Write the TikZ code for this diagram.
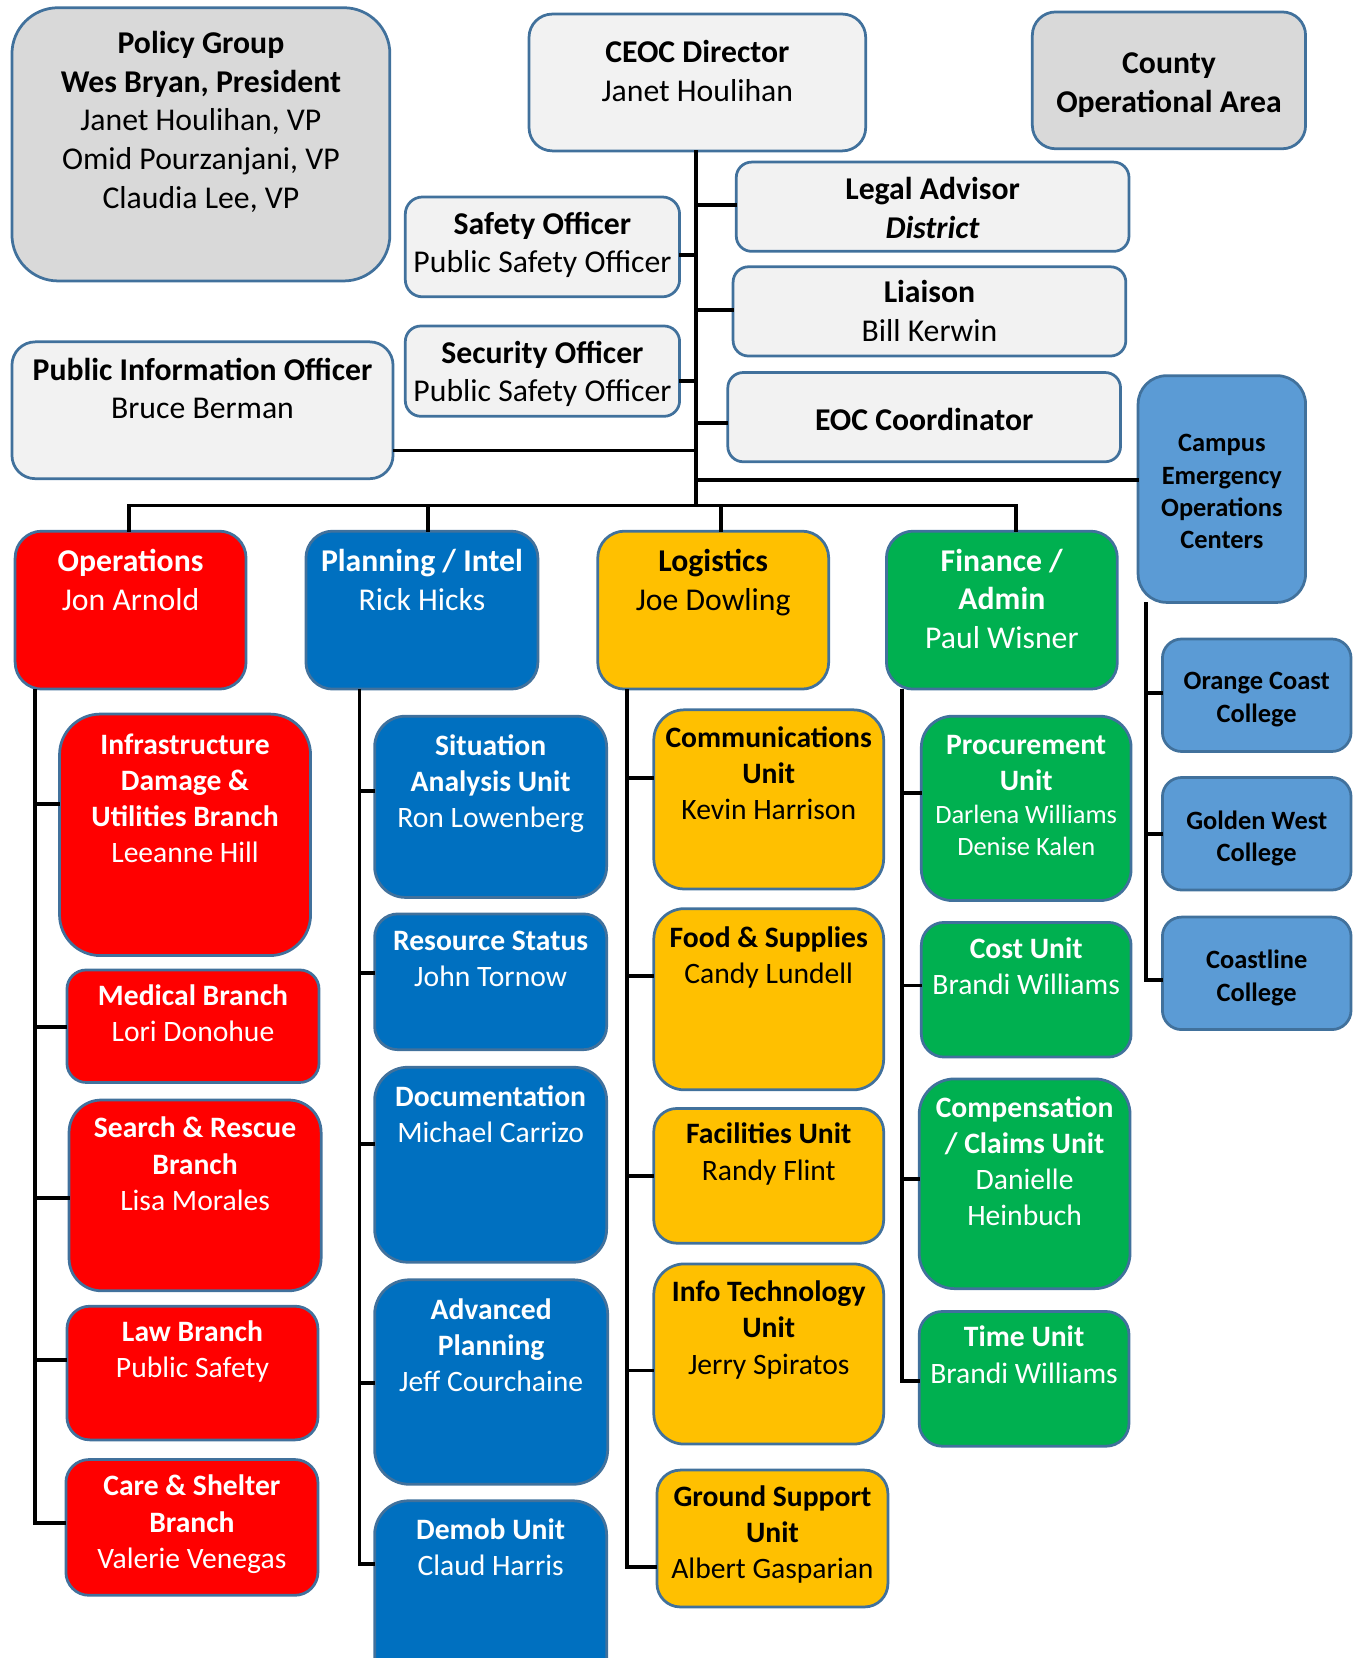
\documentclass[tikz,border=0pt]{standalone}
\usepackage{fontspec}
\setmainfont{Carlito}
\usetikzlibrary{calc}
\definecolor{edgec}{HTML}{41719C}
\definecolor{fgray}{HTML}{D9D9D9}
\definecolor{flight}{HTML}{F2F2F2}
\definecolor{fred}{HTML}{FF0000}
\definecolor{fblue}{HTML}{0070C0}
\definecolor{fyel}{HTML}{FFC000}
\definecolor{fgreen}{HTML}{00B050}
\definecolor{flblue}{HTML}{5B9BD5}
\newcommand\fA{\fontsize{30}{36.6}\selectfont}
\newcommand\fB{\fontsize{28}{34.2}\selectfont}
\newcommand\fC{\fontsize{25}{30.5}\selectfont}
\newcommand\st{\strut}
\tikzset{
  bxbase/.style={draw=edgec, line width=2.6pt, inner sep=0pt},
  bxgr/.style={bxbase, fill=fgray},
  bxlt/.style={bxbase, fill=flight},
  bxrd/.style={bxbase, fill=fred},
  bxbl/.style={bxbase, fill=fblue},
  bxyl/.style={bxbase, fill=fyel},
  bxgn/.style={bxbase, fill=fgreen},
  bxlb/.style={bxbase, fill=flblue},
  txbase/.style={align=center, inner sep=0pt, yshift=-1pt},
  txk/.style={txbase, text=black},
  txw/.style={txbase, text=white},
  conn/.style={line width=3.6pt, black, line cap=rect},
}
% name, style, x1, y1, x2, y2
\newcommand\obox[6]{%
  \pgfmathsetmacro\obw{#5-#3}%
  \pgfmathsetmacro\obh{#6-#4}%
  \pgfmathsetmacro\obr{0.167*min(\obw,\obh)}%
  \node[#2, minimum width={\obw pt-2.6pt}, minimum height={\obh pt-2.6pt}, rounded corners=\obr pt] (#1) at ({(#3+#5)/2},{(#4+#6)/2}) {};}
% name, box, y, style, font, text
\newcommand\otx[6]{\node[#4, font=#5] (#1) at (#2.center |- 0,#3) {#6};}
\begin{document}
\begin{tikzpicture}[x=1pt,y=-1pt]
\useasboundingbox (0,0) rectangle (1287,1568);
\clip (0,0) rectangle (1287,1568);

\coordinate (tk) at (658,478);
\coordinate (b1) at (122,478);
\coordinate (b2) at (405,478);
\coordinate (b3) at (682,478);
\coordinate (b4) at (961,478);
\coordinate (oL) at (33,653);
\coordinate (pL) at (340,653);
\coordinate (lL) at (593,653);
\coordinate (fL) at (853,653);
\coordinate (cL) at (1084,571);

% ---------- top boxes ----------
\obox{pg}{bxgr}{10}{6}{370}{267}
\obox{ceoc}{bxlt}{499}{12}{820}{144}
\obox{county}{bxgr}{975}{10}{1236}{142}
\obox{safety}{bxlt}{382}{185}{644}{282}
\obox{legal}{bxlt}{695}{152}{1069}{239}
\obox{liaison}{bxlt}{692}{251}{1066}{338}
\obox{security}{bxlt}{382}{307}{644}{395}
\obox{pio}{bxlt}{10}{322}{373}{454}
\obox{eoc}{bxlt}{687}{351}{1061}{438}
\obox{campus}{bxlb}{1075}{354}{1236}{571}

% ---------- section heads ----------
\obox{ops}{bxrd}{13}{501}{234}{653}
\obox{plan}{bxbl}{288}{501}{510}{653}
\obox{logi}{bxyl}{564}{501}{785}{653}
\obox{fin}{bxgn}{837}{501}{1058}{653}

% ---------- operations ----------
\obox{infra}{bxrd}{55}{674}{295}{905}
\obox{medical}{bxrd}{62}{916}{303}{1025}
\obox{sar}{bxrd}{64}{1039}{305}{1222}
\obox{law}{bxrd}{62}{1234}{302}{1363}
\obox{care}{bxrd}{61}{1379}{302}{1510}

% ---------- planning ----------
\obox{sit}{bxbl}{353}{676}{575}{850}
\obox{res}{bxbl}{353}{863}{575}{994}
\obox{doc}{bxbl}{353}{1008}{575}{1195}
\obox{adv}{bxbl}{353}{1209}{576}{1405}
\obox{demob}{bxbl}{353}{1418}{575}{1610}

% ---------- logistics ----------
\obox{comm}{bxyl}{617}{670}{837}{842}
\obox{food}{bxyl}{617}{858}{837}{1032}
\obox{fac}{bxyl}{617}{1047}{837}{1177}
\obox{it}{bxyl}{617}{1194}{837}{1367}
\obox{gnd}{bxyl}{620}{1389}{841}{1521}

% ---------- finance ----------
\obox{proc}{bxgn}{870}{676}{1071}{853}
\obox{cost}{bxgn}{870}{871}{1071}{1001}
\obox{comp}{bxgn}{868}{1019}{1070}{1220}
\obox{time}{bxgn}{868}{1239}{1069}{1369}

% ---------- colleges ----------
\obox{occ}{bxlb}{1098}{603}{1279}{712}
\obox{gwc}{bxlb}{1098}{734}{1279}{843}
\obox{coc}{bxlb}{1098}{866}{1279}{975}

% ---------- lines ----------
\draw[conn] (ceoc.south -| tk) -- (tk);
\draw[conn] (tk |- 0,194) -- (legal.west |- 0,194);
\draw[conn] (safety.east |- 0,241) -- (tk |- 0,241);
\draw[conn] (tk |- 0,293) -- (liaison.west |- 0,293);
\draw[conn] (security.east |- 0,360) -- (tk |- 0,360);
\draw[conn] (tk |- 0,400) -- (eoc.west |- 0,400);
\draw[conn] (pio.east |- 0,426) -- (tk |- 0,426);
\draw[conn] (tk |- 0,454) -- (campus.west |- 0,454);
\draw[conn] (b1) -- (b4);
\draw[conn] (b1) -- (b1 |- ops.north);
\draw[conn] (b2) -- (b2 |- plan.north);
\draw[conn] (b3) -- (b3 |- logi.north);
\draw[conn] (b4) -- (b4 |- fin.north);

\draw[conn] (oL) -- (oL |- 0,1440);
\draw[conn] (oL |- 0,760) -- (infra.west |- 0,760);
\draw[conn] (oL |- 0,971) -- (medical.west |- 0,971);
\draw[conn] (oL |- 0,1133) -- (sar.west |- 0,1133);
\draw[conn] (oL |- 0,1286) -- (law.west |- 0,1286);
\draw[conn] (oL |- 0,1440) -- (care.west |- 0,1440);

\draw[conn] (pL) -- (pL |- 0,1479);
\draw[conn] (pL |- 0,748) -- (sit.west |- 0,748);
\draw[conn] (pL |- 0,920) -- (res.west |- 0,920);
\draw[conn] (pL |- 0,1082) -- (doc.west |- 0,1082);
\draw[conn] (pL |- 0,1308) -- (adv.west |- 0,1308);
\draw[conn] (pL |- 0,1479) -- (demob.west |- 0,1479);

\draw[conn] (lL) -- (lL |- 0,1482);
\draw[conn] (lL |- 0,736) -- (comm.west |- 0,736);
\draw[conn] (lL |- 0,923) -- (food.west |- 0,923);
\draw[conn] (lL |- 0,1112) -- (fac.west |- 0,1112);
\draw[conn] (lL |- 0,1296) -- (it.west |- 0,1296);
\draw[conn] (lL |- 0,1482) -- (gnd.west |- 0,1482);

\draw[conn] (fL) -- (fL |- 0,1306);
\draw[conn] (fL |- 0,750) -- (proc.west |- 0,750);
\draw[conn] (fL |- 0,932) -- (cost.west |- 0,932);
\draw[conn] (fL |- 0,1115) -- (comp.west |- 0,1115);
\draw[conn] (fL |- 0,1306) -- (time.west |- 0,1306);

\draw[conn] (cL) -- (cL |- 0,927);
\draw[conn] (cL |- 0,655) -- (occ.west |- 0,655);
\draw[conn] (cL |- 0,789) -- (gwc.west |- 0,789);
\draw[conn] (cL |- 0,927) -- (coc.west |- 0,927);

% ---------- texts ----------
\otx{pg-t}{pg}{115.5}{txk}{\fA}{\st\textbf{Policy Group}\\\st\textbf{Wes Bryan, President}\\\st Janet Houlihan, VP\\\st Omid Pourzanjani, VP\\\st Claudia Lee, VP}
\otx{ceoc-t}{ceoc}{69.5}{txk}{\fA}{\st\textbf{CEOC Director}\\\st Janet Houlihan}
\otx{county-t}{county}{79.5}{txk}{\fA}{\st\textbf{County}\\\st\textbf{Operational Area}}
\otx{safety-t}{safety}{231.5}{txk}{\fA}{\st\textbf{Safety Officer}\\\st Public Safety Officer}
\otx{legal-t}{legal}{199}{txk}{\fA}{\st\textbf{Legal Advisor}\\\st\textbf{\textit{District}}}
\otx{liaison-t}{liaison}{296.5}{txk}{\fA}{\st\textbf{Liaison}\\\st Bill Kerwin}
\otx{security-t}{security}{353.5}{txk}{\fA}{\st\textbf{Security Officer}\\\st Public Safety Officer}
\otx{pio-t}{pio}{369.5}{txk}{\fA}{\st\textbf{Public Information Officer}\\\st Bruce Berman}
\otx{eoc-t}{eoc}{399}{txk}{\fA}{\st\textbf{EOC Coordinator}}
\otx{campus-t}{campus}{466}{txk}{\fC}{\st\textbf{Campus}\\\st\textbf{Emergency}\\\st\textbf{Operations}\\\st\textbf{Centers}}

\otx{ops-t}{ops}{550.5}{txw}{\fA}{\st\textbf{Operations}\\\st Jon Arnold}
\otx{plan-t}{plan}{550.5}{txw}{\fA}{\st\textbf{Planning / Intel}\\\st Rick Hicks}
\otx{logi-t}{logi}{550.5}{txk}{\fA}{\st\textbf{Logistics}\\\st Joe Dowling}
\otx{fin-t}{fin}{568.5}{txw}{\fA}{\st\textbf{Finance /}\\\st\textbf{Admin}\\\st Paul Wisner}

\otx{infra-t}{infra}{757}{txw}{\fB}{\st\textbf{Infrastructure}\\\st\textbf{Damage \&}\\\st\textbf{Utilities Branch}\\\st Leeanne Hill}
\otx{medical-t}{medical}{960}{txw}{\fB}{\st\textbf{Medical Branch}\\\st Lori Donohue}
\otx{sar-t}{sar}{1102.5}{txw}{\fB}{\st\textbf{Search \& Rescue}\\\st\textbf{Branch}\\\st Lisa Morales}
\otx{law-t}{law}{1278}{txw}{\fB}{\st\textbf{Law Branch}\\\st Public Safety}
\otx{care-t}{care}{1441}{txw}{\fB}{\st\textbf{Care \& Shelter}\\\st\textbf{Branch}\\\st Valerie Venegas}

\otx{sit-t}{sit}{740.5}{txw}{\fB}{\st\textbf{Situation}\\\st\textbf{Analysis Unit}\\\st Ron Lowenberg}
\otx{res-t}{res}{908}{txw}{\fB}{\st\textbf{Resource Status}\\\st John Tornow}
\otx{doc-t}{doc}{1056}{txw}{\fB}{\st\textbf{Documentation}\\\st Michael Carrizo}
\otx{adv-t}{adv}{1274}{txw}{\fB}{\st\textbf{Advanced}\\\st\textbf{Planning}\\\st Jeff Courchaine}
\otx{demob-t}{demob}{1465}{txw}{\fB}{\st\textbf{Demob Unit}\\\st Claud Harris}

\otx{comm-t}{comm}{733}{txk}{\fB}{\st\textbf{Communications}\\\st\textbf{Unit}\\\st Kevin Harrison}
\otx{food-t}{food}{905}{txk}{\fB}{\st\textbf{Food \& Supplies}\\\st Candy Lundell}
\otx{fac-t}{fac}{1091}{txk}{\fB}{\st\textbf{Facilities Unit}\\\st Randy Flint}
\otx{it-t}{it}{1257.5}{txk}{\fB}{\st\textbf{Info Technology}\\\st\textbf{Unit}\\\st Jerry Spiratos}
\otx{gnd-t}{gnd}{1451}{txk}{\fB}{\st\textbf{Ground Support}\\\st\textbf{Unit}\\\st Albert Gasparian}

\otx{proc-t}{proc}{722.5}{txw}{\fB}{\st\textbf{Procurement}\\\st\textbf{Unit}}
\otx{proc-n}{proc}{787}{txw}{\fC}{\st Darlena Williams\\\st Denise Kalen}
\otx{cost-t}{cost}{916}{txw}{\fB}{\st\textbf{Cost Unit}\\\st Brandi Williams}
\otx{comp-t}{comp}{1100}{txw}{\fB}{\st\textbf{Compensation}\\\st\textbf{/ Claims Unit}\\\st Danielle\\\st Heinbuch}
\otx{time-t}{time}{1283}{txw}{\fB}{\st\textbf{Time Unit}\\\st Brandi Williams}

\otx{occ-t}{occ}{660.5}{txk}{\fC}{\st\textbf{Orange Coast}\\\st\textbf{College}}
\otx{gwc-t}{gwc}{792.5}{txk}{\fC}{\st\textbf{Golden West}\\\st\textbf{College}}
\otx{coc-t}{coc}{924.5}{txk}{\fC}{\st\textbf{Coastline}\\\st\textbf{College}}
\end{tikzpicture}
\end{document}
